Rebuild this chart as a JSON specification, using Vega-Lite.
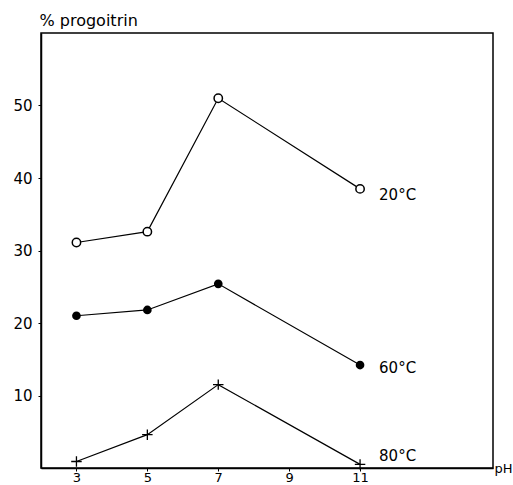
{
  "$schema": "https://vega.github.io/schema/vega-lite/v6.json",
  "width": 452,
  "height": 435,
  "autosize": {"type": "none"},
  "padding": {"left": 41, "top": 33, "right": 20, "bottom": 17},
  "background": "white",
  "config": {
    "view": {"stroke": "black", "strokeWidth": 1.5},
    "font": "DejaVu Sans",
    "axis": {"grid": false, "domainColor": "black", "domainWidth": 1.5, "tickColor": "black", "labelColor": "black", "labelFontSize": 15, "titleFontSize": 16, "titleFontWeight": "normal", "titleColor": "black", "labelFont": "DejaVu Sans", "titleFont": "DejaVu Sans"}
  },
  "datasets": {
    "pts": [
      {"pH": 3, "pct": 31.1, "temp": "20°C"},
      {"pH": 5, "pct": 32.6, "temp": "20°C"},
      {"pH": 7, "pct": 51.0, "temp": "20°C"},
      {"pH": 11, "pct": 38.5, "temp": "20°C"},
      {"pH": 3, "pct": 21.0, "temp": "60°C"},
      {"pH": 5, "pct": 21.8, "temp": "60°C"},
      {"pH": 7, "pct": 25.4, "temp": "60°C"},
      {"pH": 11, "pct": 14.2, "temp": "60°C"},
      {"pH": 3, "pct": 0.9, "temp": "80°C"},
      {"pH": 5, "pct": 4.6, "temp": "80°C"},
      {"pH": 7, "pct": 11.5, "temp": "80°C"},
      {"pH": 11, "pct": 0.5, "temp": "80°C"}
    ],
    "labels": [
      {"pH": 11, "pct": 37.6, "temp": "20°C"},
      {"pH": 11, "pct": 13.8, "temp": "60°C"},
      {"pH": 11, "pct": 1.6, "temp": "80°C"}
    ]
  },
  "encoding": {
    "x": {"field": "pH", "type": "quantitative", "scale": {"domain": [2, 14.75], "nice": false, "zero": false},
      "axis": {"values": [3, 5, 7, 9, 11], "title": "pH", "titleAngle": 0, "titleX": 453, "titleY": 0, "titleAlign": "left", "titleBaseline": "middle", "titleFontSize": 13, "tickSize": 3, "labelPadding": 0, "labelFontSize": 13}},
    "y": {"field": "pct", "type": "quantitative", "scale": {"domain": [0, 60], "nice": false},
      "axis": {"values": [10, 20, 30, 40, 50], "title": "% progoitrin", "titleAngle": 0, "titleX": -2, "titleY": -8, "titleAlign": "left", "titleBaseline": "alphabetic", "tickSize": 3, "labelPadding": 6}}
  },
  "layer": [
    {"data": {"name": "pts"}, "mark": {"type": "line", "color": "black", "strokeWidth": 1.2}, "encoding": {"detail": {"field": "temp"}}},
    {"data": {"name": "pts"}, "transform": [{"filter": "datum.temp === '20°C'"}], "mark": {"type": "point", "shape": "circle", "size": 70, "filled": true, "fill": "white", "stroke": "black", "strokeWidth": 1.5, "opacity": 1}},
    {"data": {"name": "pts"}, "transform": [{"filter": "datum.temp === '60°C'"}], "mark": {"type": "point", "shape": "circle", "size": 75, "filled": true, "fill": "black", "opacity": 1}},
    {"data": {"name": "pts"}, "transform": [{"filter": "datum.temp === '80°C'"}], "mark": {"type": "point", "shape": "M-1,0L1,0M0,-1L0,1", "size": 110, "filled": false, "stroke": "black", "strokeWidth": 1.3, "opacity": 1}},
    {"data": {"name": "labels"}, "mark": {"type": "text", "align": "left", "baseline": "middle", "dx": 19, "fontSize": 15, "color": "black", "font": "DejaVu Sans"}, "encoding": {"text": {"field": "temp"}}}
  ]
}
